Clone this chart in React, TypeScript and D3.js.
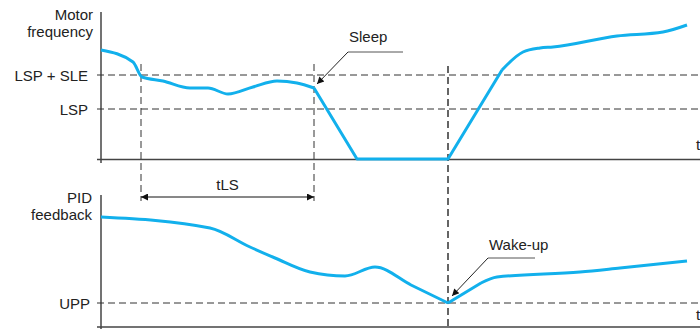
import React from "react";
import * as d3 from "d3";

// Time (arbitrary units) and values
const freqTime = [0, 32, 41, 62, 89, 107, 127, 152, 176, 196, 213, 256, 347, 401, 422, 439, 452, 516, 562, 586];
const freqValue = [109, 97, 82, 78, 71, 71, 65, 72, 78, 76, 71, 0, 0, 89, 107, 111, 112, 123, 127, 134];
const pidTime = [0, 109, 149, 174, 209, 244, 274, 310, 347, 380, 396, 479, 519, 586];
const pidValue = [110, 99, 80, 69, 55, 51, 60, 42, 24, 44, 50, 55, 59, 66];
// index ranges: [start, end, smooth?]
const freqSegments: [number, number, boolean][] = [
  [0, 10, true],
  [10, 13, false],
  [13, 19, true],
];
const pidSegments: [number, number, boolean][] = [
  [0, 8, true],
  [8, 9, false],
  [9, 13, true],
];
const topLevels = [
  { label: "LSP + SLE", value: 84 },
  { label: "LSP", value: 50 },
];
const bottomLevels = [{ label: "UPP", value: 24 }];
const markTimes = [40, 213, 347]; // tLS start, sleep, wake-up
const W = 700;
const H = 329;

export default function App() {
  const x = d3.scaleLinear().domain([0, 600]).range([101, 701]);
  const yTop = d3.scaleLinear().domain([0, 150]).range([159, 9]);
  const yBot = d3.scaleLinear().domain([0, 100]).range([327, 227]);

  const buildPath = (
    times: number[],
    values: number[],
    segs: [number, number, boolean][],
    y: d3.ScaleLinear<number, number>
  ) =>
    segs
      .map(([a, b, smooth]) => {
        const pts: [number, number][] = [];
        for (let i = a; i <= b; i++) pts.push([x(times[i]), y(values[i])]);
        return (
          d3
            .line()
            .curve(smooth ? d3.curveMonotoneX : d3.curveLinear)(pts) || ""
        );
      })
      .join(" ");

  const freqPath = buildPath(freqTime, freqValue, freqSegments, yTop);
  const pidPath = buildPath(pidTime, pidValue, pidSegments, yBot);

  const blue = "#12b0ec";
  const axisColor = "#444";
  const dashColor = "#333";
  const font = "Liberation Sans, Arial, sans-serif";
  const fs = 15;

  const xA = x(0);
  const xTLS0 = x(markTimes[0]);
  const xSleep = x(markTimes[1]);
  const xWake = x(markTimes[2]);

  return (
    <svg
      width={W}
      height={H}
      style={{ position: "absolute", left: 0, top: 0 }}
      fontFamily={font}
      fontSize={fs}
    >
      <defs>
        <marker id="ah" viewBox="0 0 10 10" refX="10" refY="5" markerWidth="10" markerHeight="7" markerUnits="userSpaceOnUse" orient="auto-start-reverse">
          <path d="M0,0 L10,5 L0,10 z" fill="#111" />
        </marker>
        <marker id="ah2" viewBox="0 0 10 10" refX="10" refY="5" markerWidth="12" markerHeight="7" markerUnits="userSpaceOnUse" orient="auto-start-reverse">
          <path d="M0,0 L10,5 L0,10 z" fill="#111" />
        </marker>
      </defs>
      <rect width={W} height={H} fill="#fff" />

      {/* Top panel axes */}
      <line x1={xA} x2={xA} y1={12} y2={163} stroke={axisColor} strokeWidth={1.5} />
      <line x1={97} x2={W} y1={159.5} y2={159.5} stroke={axisColor} strokeWidth={1.5} />
      {topLevels.map((l) => (
        <g key={l.label}>
          <line x1={97} x2={W} y1={yTop(l.value)} y2={yTop(l.value)} stroke={dashColor} strokeDasharray="7,4" strokeWidth={1} />
          <text x={88} y={yTop(l.value) + 5.5} textAnchor="end" fill="#222">{l.label}</text>
        </g>
      ))}
      <text x={93} y={20} textAnchor="end" fill="#222">Motor</text>
      <text x={93} y={37} textAnchor="end" fill="#222">frequency</text>
      <text x={696} y={150} fill="#222">t</text>

      {/* Bottom panel axes */}
      <line x1={xA} x2={xA} y1={195} y2={H} stroke={axisColor} strokeWidth={1.5} />
      <line x1={97} x2={W} y1={327} y2={327} stroke={axisColor} strokeWidth={1.5} />
      {bottomLevels.map((l) => (
        <g key={l.label}>
          <line x1={97} x2={W} y1={yBot(l.value)} y2={yBot(l.value)} stroke={dashColor} strokeDasharray="7,4" strokeWidth={1} />
          <text x={90} y={yBot(l.value) + 5.5} textAnchor="end" fill="#222">{l.label}</text>
        </g>
      ))}
      <text x={92} y={203} textAnchor="end" fill="#222">PID</text>
      <text x={92} y={220} textAnchor="end" fill="#222">feedback</text>
      <text x={696} y={320} fill="#222">t</text>

      {/* Vertical dashed markers */}
      <line x1={xTLS0} x2={xTLS0} y1={64} y2={201} stroke={dashColor} strokeDasharray="7,4" strokeWidth={1} />
      <line x1={xSleep} x2={xSleep} y1={64} y2={201} stroke={dashColor} strokeDasharray="7,4" strokeWidth={1} />
      <line x1={xWake} x2={xWake} y1={66} y2={H} stroke={dashColor} strokeDasharray="7,4" strokeWidth={1.5} />

      {/* tLS */}
      <line x1={xTLS0} x2={xSleep} y1={197} y2={197} stroke="#111" strokeWidth={1} markerStart="url(#ah2)" markerEnd="url(#ah2)" />
      <text x={(xTLS0 + xSleep) / 2} y={190} textAnchor="middle" fill="#222">tLS</text>

      {/* Curves */}
      <path d={freqPath} fill="none" stroke={blue} strokeWidth={3} strokeLinejoin="round" strokeLinecap="butt" />
      <path d={pidPath} fill="none" stroke={blue} strokeWidth={3} strokeLinejoin="round" strokeLinecap="butt" />

      {/* Sleep annotation */}
      <text x={349} y={42} fill="#222">Sleep</text>
      <line x1={348} x2={403} y1={52} y2={52} stroke="#555" strokeWidth={1} />
      <line x1={348} x2={xSleep + 3} y1={52} y2={yTop(76) + 1} stroke="#222" strokeWidth={1} markerEnd="url(#ah)" />

      {/* Wake-up annotation */}
      <text x={489} y={250} fill="#222">Wake-up</text>
      <line x1={488} x2={535} y1={258} y2={258} stroke="#555" strokeWidth={1} />
      <line x1={488} x2={xWake + 4} y1={258} y2={296} stroke="#222" strokeWidth={1} markerEnd="url(#ah)" />
    </svg>
  );
}
